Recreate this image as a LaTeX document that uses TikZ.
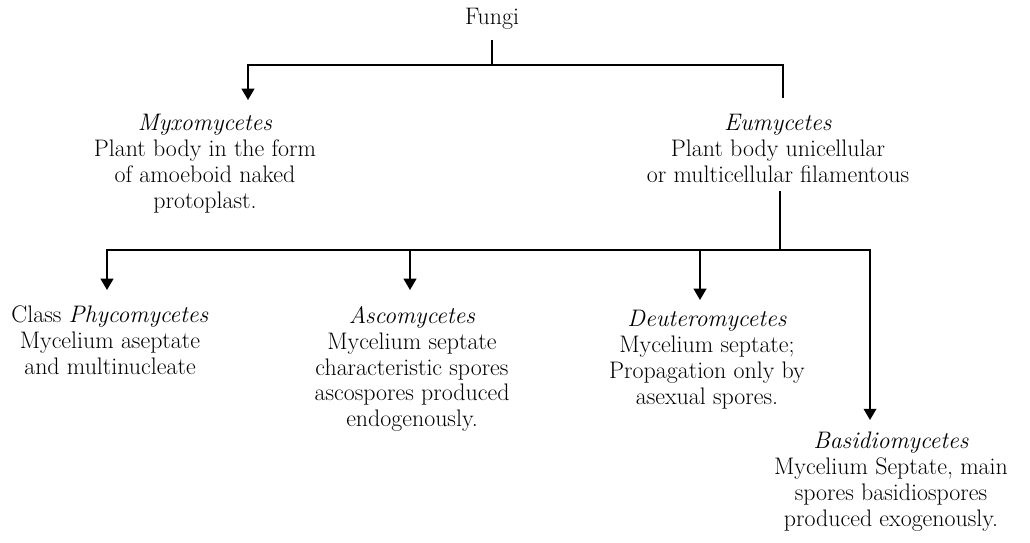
\documentclass[tikz,border=0pt]{standalone}
\usepackage{tikz}
\usetikzlibrary{arrows.meta}
\tikzset{
  txt/.style={align=center,inner sep=0pt,anchor=north,font=\fontsize{17}{18.4}\selectfont},
  link/.style={line width=1.3pt},
  arr/.style={line width=1.3pt,-{Triangle[width=9pt,length=8pt]}},
}

\begin{document}
\begin{tikzpicture}[x=0.025cm,y=-0.025cm]
  \useasboundingbox (0,0) rectangle (1030,543);
  \node[txt] (fungi) at (492,8) {Fungi};
  \node[txt] (myxo) at (205,114) {\textit{Myxomycetes}\\Plant body in the form\\of amoeboid naked\\protoplast.};
  \node[txt] (eumy) at (778,114) {\textit{Eumycetes}\\Plant body unicellular\\or multicellular filamentous};
  \node[txt] (phyco) at (110,306) {Class \textit{Phycomycetes}\\Mycelium aseptate\\and multinucleate};
  \node[txt] (asco) at (412,306) {\textit{Ascomycetes}\\Mycelium septate\\characteristic spores\\ascospores produced\\endogenously.};
  \node[txt] (deut) at (707,310) {\textit{Deuteromycetes}\\Mycelium septate;\\Propagation only by\\asexual spores.};
  \node[txt] (basid) at (891,432) {\textit{Basidiomycetes}\\Mycelium Septate, main\\spores basidiospores\\produced exogenously.};
  % junctions and arrow ends
  \coordinate (j1) at (492,65);
  \coordinate (j2) at (780,250);
  \coordinate (myxoin) at (248,100);
  \coordinate (eumyin) at (783,98);
  \coordinate (phycoin) at (107,290);
  \coordinate (ascoin) at (410,290);
  \coordinate (deutin) at (700,300);
  \coordinate (basidin) at (870,420);
  % first level
  \draw[link] (fungi.south -| j1) ++(0,10) -- (j1);
  \draw[arr] (j1) -| (myxoin);
  \draw[link] (j1) -| (eumyin);
  % second level
  \draw[link] (eumy.south -| j2) ++(0,8) -- (j2);
  \draw[arr] (j2) -| (phycoin);
  \draw[arr] (j2) -| (ascoin);
  \draw[arr] (j2) -| (deutin);
  \draw[arr] (j2) -| (basidin);
\end{tikzpicture}
\end{document}
